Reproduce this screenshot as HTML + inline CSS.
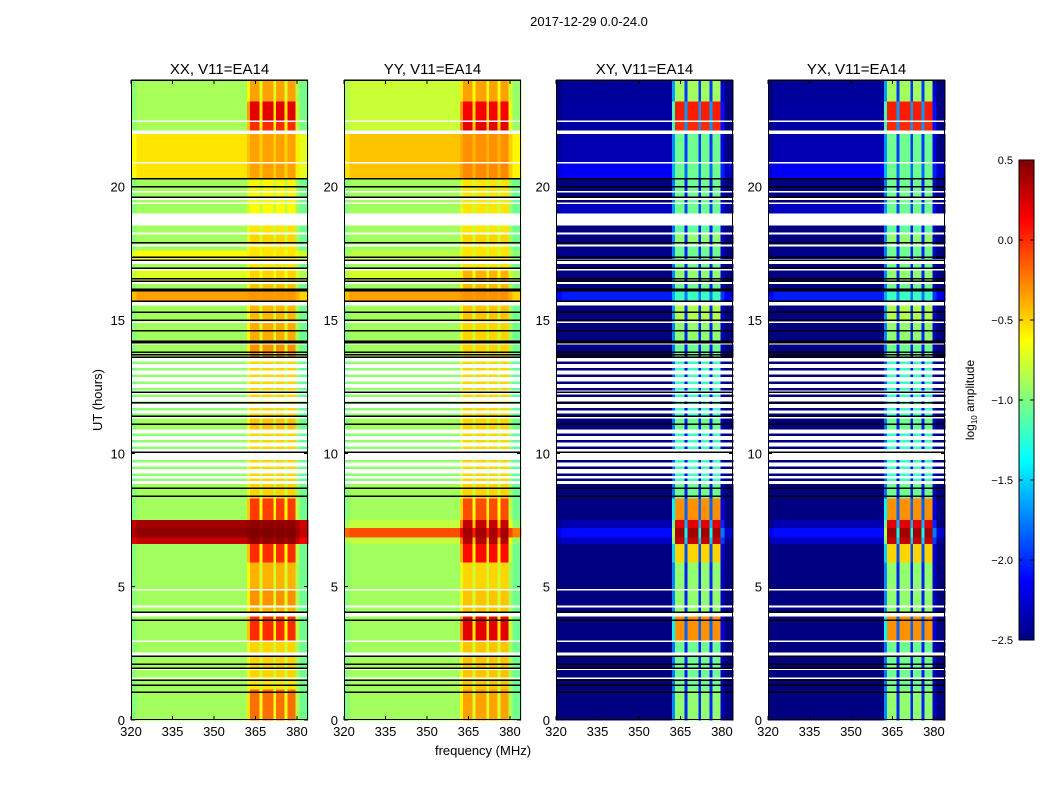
<!DOCTYPE html>
<html><head><meta charset="utf-8">
<style>
body{margin:0;background:#fff;}
svg{display:block;font-family:"Liberation Sans",sans-serif;}
</style></head><body>
<svg id="fig" width="1050" height="800" xmlns="http://www.w3.org/2000/svg">
<rect width="1050" height="800" fill="#fff"/>
<text x="589" y="26" font-size="13" text-anchor="middle">2017-12-29 0.0-24.0</text>
<text x="483" y="755" font-size="13" text-anchor="middle">frequency (MHz)</text>
<text x="102" y="400" font-size="13" text-anchor="middle" transform="rotate(-90 102 400)">UT (hours)</text>
<g id="panels"></g>
<g id="cbar"></g>
</svg>
<script>
// ---------- data ----------
const panelTitles = ["XX, V11=EA14","YY, V11=EA14","XY, V11=EA14","YX, V11=EA14"];
const xTicks = [320,335,350,365,380];
const yTicks = [0,5,10,15,20];
const cbarTicks = [0.5,0.0,-0.5,-1.0,-1.5,-2.0,-2.5];
// frequency segments: [lo, hi, hotWeight, edgeOffset]
const freqSegments = [
 [320,322,0,-0.08],[322,362,0,0],[362,363,0.5,0],[363,366.5,1,0],[366.5,367.5,0.3,0],
 [367.5,371.5,1,0],[371.5,372.5,0.3,0],[372.5,375.5,1,0],[375.5,376.5,0.3,0],[376.5,379.5,1,0],
 [379.5,381,0.15,-0.05],[381,384,0,-0.15]
];
// time bands (hours) and levels per product; null = flagged
const bandTop    = [24.0,23.2,22.5,22.42,22.12,21.97,20.93,20.86,20.3,19.85,19.78,19.6,19.5,19.42,19.35,19.0,18.55,18.3,18.2,17.85,17.75,17.6,17.3,17.1,16.95,16.85,16.45,16.35,16.1,15.7,15.55,14.95,14.88,14.15,14.08,13.6,11.3,10.9,8.85,8.3,7.5,7.2,6.85,6.6,5.9,4.93,4.86,4.3,4.22,4.05,3.88,3.0,2.93,2.55,2.4,1.95,1.88,1.6,1.53,1.15];
const bandBottom = [23.2,22.5,22.42,22.12,21.97,20.93,20.86,20.3,19.85,19.78,19.6,19.5,19.42,19.35,19.0,18.55,18.3,18.2,17.85,17.75,17.6,17.3,17.1,16.95,16.85,16.45,16.35,16.1,15.7,15.55,14.95,14.88,14.15,14.08,13.6,11.3,10.9,8.85,8.3,7.5,7.2,6.85,6.6,5.9,4.93,4.86,4.3,4.22,4.05,3.88,3.0,2.93,2.55,2.4,1.95,1.88,1.6,1.53,1.15,0];
const xxBase = [-0.88,-0.88,null,-0.88,null,-0.55,null,-0.55,-0.9,null,-0.9,null,-0.9,null,-0.9,null,-0.9,null,-0.9,null,-0.9,-0.62,null,-0.9,null,-0.72,null,-0.9,-0.35,null,-0.9,null,-0.9,null,-0.9,null,-0.9,null,-0.9,-0.9,0.4,0.45,0.3,-0.9,-0.9,null,-0.9,null,-0.9,null,-0.9,null,-0.9,null,-0.9,null,-0.9,null,-0.9,-0.9];
const xxHot  = [-0.35,0.2,null,0.0,null,-0.35,null,-0.35,-0.6,null,-0.6,null,-0.6,null,-0.62,null,-0.55,null,-0.5,null,-0.55,-0.55,null,-0.55,null,-0.5,null,-0.45,-0.32,null,-0.42,null,-0.38,null,-0.3,null,-0.45,null,-0.5,-0.05,0.45,0.5,0.45,0.0,-0.4,null,-0.3,null,-0.4,null,0.0,null,-0.5,null,-0.5,null,-0.5,null,-0.55,-0.2];
const yyBase = [-0.78,-0.78,null,-0.78,null,-0.45,null,-0.45,-0.9,null,-0.9,null,-0.9,null,-0.9,null,-0.9,null,-0.9,null,-0.9,-0.82,null,-0.9,null,-0.75,null,-0.9,-0.35,null,-0.9,null,-0.9,null,-0.9,null,-0.9,null,-0.9,-0.9,-0.8,-0.1,-0.8,-0.9,-0.9,null,-0.9,null,-0.9,null,-0.9,null,-0.9,null,-0.9,null,-0.9,null,-0.9,-0.9];
const yyHot  = [-0.35,0.15,null,0.2,null,-0.3,null,-0.28,-0.55,null,-0.55,null,-0.55,null,-0.55,null,-0.55,null,-0.5,null,-0.55,-0.55,null,-0.55,null,-0.4,null,-0.42,-0.3,null,-0.45,null,-0.5,null,-0.5,null,-0.5,null,-0.5,-0.1,0.3,0.4,0.35,0.1,-0.5,null,-0.45,null,-0.45,null,0.2,null,-0.45,null,-0.45,null,-0.45,null,-0.45,-0.35];
const xyBase = [-2.42,-2.4,null,-2.4,null,-2.35,null,-2.15,-2.5,null,-2.5,null,-2.5,null,-2.3,null,-2.5,null,-2.5,null,-2.5,-2.45,null,-2.5,null,-2.5,null,-2.5,-2.05,null,-2.5,null,-2.5,null,-2.5,null,-2.5,null,-2.5,-2.5,-2.35,-2.1,-2.3,-2.5,-2.5,null,-2.5,null,-2.5,null,-2.5,null,-2.5,null,-2.5,null,-2.5,null,-2.5,-2.5];
const xyHot  = [-0.9,0.05,null,0.0,null,-1.05,null,-1.05,-1.05,null,-1.05,null,-1.05,null,-1.05,null,-1.1,null,-0.95,null,-1.05,-1.05,null,-1.05,null,-0.95,null,-1.05,-1.2,null,-0.85,null,-0.95,null,-1.05,null,-1.05,null,-1.05,-0.3,0.2,0.4,0.3,-0.5,-0.95,null,-0.95,null,-0.95,null,-0.3,null,-1.05,null,-1.05,null,-1.05,null,-1.05,-0.95];
// thin unflagged integrations inside flagged stretches (hours)
const thinRows = [13.45,13.2,12.95,12.7,12.45,12.2,11.95,11.7,11.5,10.75,10.5,10.25,9.75,9.5,9.25,9.05];
const thinXX = [-0.95,-0.5], thinYY=[-0.95,-0.5], thinXY=[-2.5,-1.2];
// black (zero) rows, hours
const blackRows = [24.0,20.3,20.0,19.6,17.9,17.35,17.25,16.95,16.55,16.45,16.15,16.1,15.7,15.3,15.0,14.6,14.2,14.15,13.8,13.7,13.6,12.3,11.9,11.4,11.1,10.05,8.7,8.4,4.05,3.75,2.4,2.1,1.95,1.5,1.3,1.05];

// ---------- scales ----------
const panelX = [131,344,556,768], PW=177, YT=80, YB=720;
const vmin=-2.5, vmax=0.5;
function yScale(h){return YB-(h/24)*(YB-YT);}
function xScale(p,f){return panelX[p]+(f-320)/64*PW;}
function jet(v){
  let t=(v-vmin)/(vmax-vmin); t=Math.max(0,Math.min(1,t));
  const ch=(x)=>Math.max(0,Math.min(1,x));
  const r=ch(1.5-Math.abs(4*t-3)), g=ch(1.5-Math.abs(4*t-2)), b=ch(1.5-Math.abs(4*t-1));
  return `rgb(${Math.round(r*255)},${Math.round(g*255)},${Math.round(b*255)})`;
}
const NS="http://www.w3.org/2000/svg";
function mk(tag,attrs,parent){const e=document.createElementNS(NS,tag);for(const k in attrs)e.setAttribute(k,attrs[k]);parent.appendChild(e);return e;}

const baseArr=[xxBase,yyBase,xyBase,xyBase], hotArr=[xxHot,yyHot,xyHot,xyHot], thinArr=[thinXX,thinYY,thinXY,thinXY];
const panelsG=document.getElementById('panels');
for(let p=0;p<4;p++){
  const g=mk('g',{'shape-rendering':'crispEdges'},panelsG);
  
  
  const hm=mk('g',{},g);
  
  
  function row(top,bot,b,h){
    for(const s of freqSegments){
      const v=b+s[2]*(h-b)+s[3];
      const x0=xScale(p,s[0]), x1=xScale(p,s[1]);
      const r=mk('rect',{x:x0.toFixed(2),y:yScale(top).toFixed(2),width:(x1-x0+0.3).toFixed(2),height:(yScale(bot)-yScale(top)+0.3).toFixed(2),fill:jet(v)},hm);
      
      
    }
  }
  for(let i=0;i<bandTop.length;i++){
    if(baseArr[p][i]===null) continue;
    row(bandTop[i],bandBottom[i],baseArr[p][i],hotArr[p][i]);
  }
  for(const h of thinRows){ row(h,h-0.08,thinArr[p][0],thinArr[p][1]); }
  for(const h of blackRows){
    const l=mk('rect',{x:panelX[p],y:(yScale(h)-0.7).toFixed(2),width:PW,height:1.5,fill:'#000'},g);
    
    
  }
  const fr=mk('rect',{x:panelX[p]+0.5,y:YT+0.5,width:PW-1,height:YB-YT-1,fill:'none',stroke:'#000','stroke-width':1},g);
  
  
  const t=mk('text',{x:panelX[p]+PW/2,y:74,'font-size':15,'text-anchor':'middle'},g);
  t.textContent=panelTitles[p];
  
  
  for(const f of xTicks){
    const x=xScale(p,f);
    mk('line',{x1:x,x2:x,y1:YB,y2:YB-4,stroke:'#000'},g);
    mk('line',{x1:x,x2:x,y1:YT,y2:YT+4,stroke:'#000'},g);
    const tl=mk('text',{x:x,y:YB+16,'font-size':13,'text-anchor':'middle'},g);
    tl.textContent=f;
    
    
  }
  for(const h of yTicks){
    const y=yScale(h);
    mk('line',{x1:panelX[p],x2:panelX[p]+4,y1:y,y2:y,stroke:'#000'},g);
    mk('line',{x1:panelX[p]+PW,x2:panelX[p]+PW-4,y1:y,y2:y,stroke:'#000'},g);
    const tl=mk('text',{x:panelX[p]-6,y:y+5,'font-size':13,'text-anchor':'end'},g);
    tl.textContent=h;
    
    
  }
}
// ---------- colorbar ----------
const cb=document.getElementById('cbar');
const CX=1019,CW=15,CT=160,CB=640;
const defs=mk('defs',{},cb);
const grad=mk('linearGradient',{id:'jetg',x1:0,y1:1,x2:0,y2:0},defs);
for(let i=0;i<=40;i++){mk('stop',{offset:i/40,'stop-color':jet(vmin+(vmax-vmin)*i/40)},grad);}
const cr=mk('rect',{x:CX,y:CT,width:CW,height:CB-CT,fill:'url(#jetg)',stroke:'#000','stroke-width':1},cb);


for(const v of cbarTicks){
  const y=CT+(vmax-v)/(vmax-vmin)*(CB-CT);
  mk('line',{x1:CX,x2:CX+4,y1:y,y2:y,stroke:'#000'},cb);
  mk('line',{x1:CX+CW,x2:CX+CW-4,y1:y,y2:y,stroke:'#000'},cb);
  const tl=mk('text',{x:CX-6,y:y+4,'font-size':11,'text-anchor':'end'},cb);
  tl.textContent=v.toFixed(1).replace('-','\u2212');
  
  
}
const cl=mk('text',{x:974,y:400,'font-size':12,'text-anchor':'middle',transform:'rotate(-90 974 400)'},cb);
cl.innerHTML='log<tspan font-size="8" dy="3">10</tspan><tspan dy="-3"> amplitude</tspan>';


</script>
</body></html>
